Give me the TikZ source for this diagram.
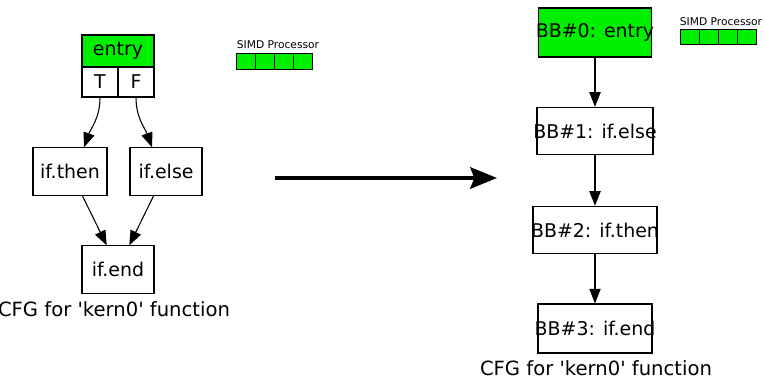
\documentclass[tikz,border=0pt]{standalone}
\usepackage{fontspec}
\setmainfont{DejaVu Sans}[Ligatures=TeXOff]
\usepackage{tikz}
\usetikzlibrary{shapes,arrows.meta,positioning,calc}
\definecolor{simdgreen}{RGB}{0,238,0}
\newcommand{\bbtext}[1]{\makebox[0pt]{#1}}
\tikzset{
    bbox/.style={draw, line width=0.8pt, inner sep=0pt, minimum height=35.5pt, font=\fontsize{14.2}{16}\selectfont},
    portbox/.style={draw, line width=0.8pt, inner sep=0pt, minimum width=27pt, minimum height=22.5pt, font=\fontsize{14.2}{16}\selectfont},
    simdcell/.style={draw, line width=0.7pt, fill=simdgreen, inner sep=0pt, minimum width=14.4pt, minimum height=11.5pt},
    simdlabel/.style={inner sep=0pt, font=\fontsize{8}{9}\selectfont},
    caption/.style={inner sep=0pt, font=\fontsize{14.7}{16}\selectfont},
    edge/.style={draw, line width=0.8pt, -{Triangle[length=11pt,width=8.5pt]}},
    bigarrow/.style={draw, line width=3pt, -{Stealth[length=20pt,width=16pt,inset=3pt]}}
}
\begin{document}
\begin{tikzpicture}[x=0.75pt, y=-0.75pt]
    \useasboundingbox (0,0) rectangle (765,378);

    % left CFG
    \node[bbox, fill=simdgreen, minimum width=54pt, minimum height=24pt] (entry) at (118,51) {\bbtext{entry}};
    \node[portbox] (T) at (100,82) {T};
    \node[portbox] (F) at (136,82) {F};
    \node[bbox, minimum width=55.5pt] (ifthen) at (70,171.5) {\bbtext{if.then}};
    \node[bbox, minimum width=54pt] (ifelse) at (166,171.5) {\bbtext{if.else}};
    \node[bbox, minimum width=54pt] (ifend) at (118,269.5) {\bbtext{if.end}};
    \node[caption] (capleft) at (114,309) {CFG for 'kern0' function};

    \draw[edge] (T.south) to[out=-90, in=70] (ifthen.60);
    \draw[edge] (F.south) to[out=-90, in=110] (ifelse.120);
    \draw[edge] (ifthen.-63) -- (ifend.115);
    \draw[edge] (ifelse.-117) -- (ifend.65);

    % left SIMD
    \node[simdlabel] (simdleft) at (278,45) {SIMD Processor};
    \foreach \i in {0,...,3}
        \node[simdcell] (lcell\i) at (245.6+19.25*\i,61.5) {};

    % transformation arrow
    \coordinate (arrowstart) at (275,178);
    \coordinate (arrowend) at (497,178);
    \draw[bigarrow] (arrowstart) -- (arrowend);

    % right CFG
    \node[bbox, fill=simdgreen, minimum width=84.75pt, minimum height=36.75pt] (bbzero) at (595,32.5) {\bbtext{BB\#0: entry}};
    \node[bbox, minimum width=87pt] (bbone) at (595,131) {\bbtext{BB\#1: if.else}};
    \node[bbox, minimum width=93pt] (bbtwo) at (595,230) {\bbtext{BB\#2: if.then}};
    \node[bbox, minimum width=85.5pt, minimum height=36.75pt] (bbthree) at (595,328.5) {\bbtext{BB\#3: if.end}};
    \node[caption] (capright) at (596,368) {CFG for 'kern0' function};

    \draw[edge] (bbzero) -- (bbone);
    \draw[edge] (bbone) -- (bbtwo);
    \draw[edge] (bbtwo) -- (bbthree);

    % right SIMD
    \node[simdlabel] (simdright) at (721,21.5) {SIMD Processor};
    \foreach \i in {0,...,3}
        \node[simdcell] (rcell\i) at (689.6+19.25*\i,37) {};
\end{tikzpicture}
\end{document}
